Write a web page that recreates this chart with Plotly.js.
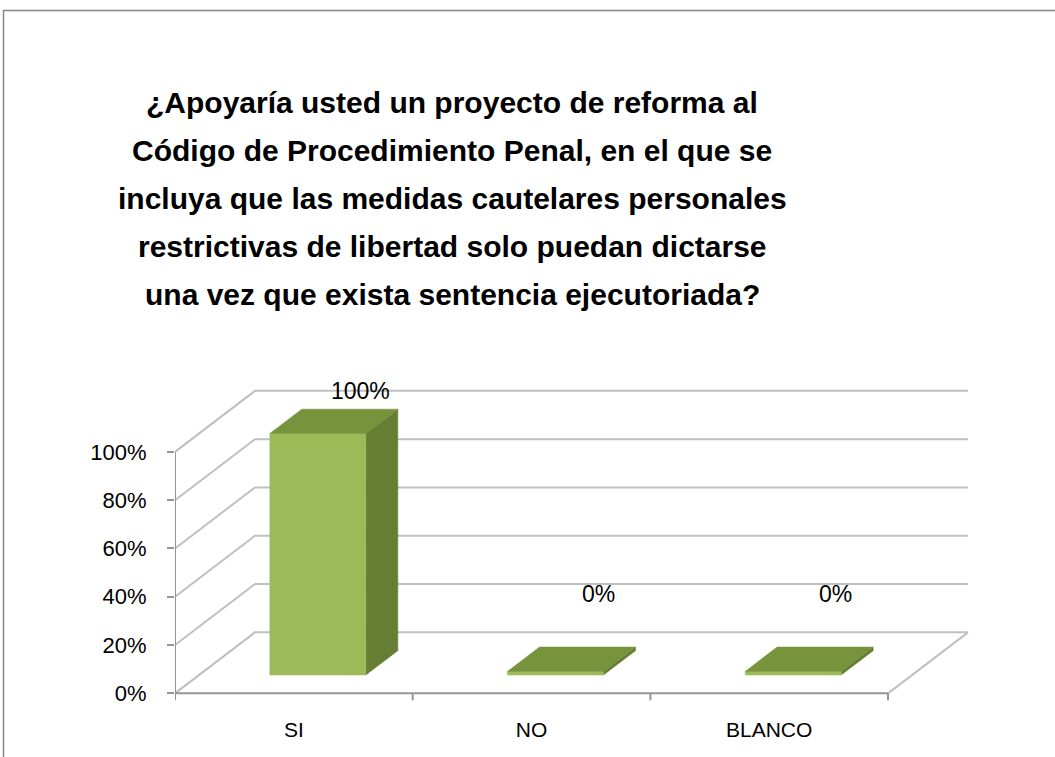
<!DOCTYPE html>
<html>
<head>
<meta charset="utf-8">
<script src="https://cdn.plot.ly/plotly-3.0.1.min.js"></script>
<style>
html,body{margin:0;padding:0;background:#ffffff;}
#chart{width:1055px;height:757px;}
</style>
</head>
<body>
<div id="chart"></div>
<script>
// ---------- data ----------
const titleLines = [
  "¿Apoyaría usted un proyecto de reforma al",
  "Código de Procedimiento Penal, en el que se",
  "incluya que las medidas cautelares personales",
  "restrictivas de libertad solo puedan dictarse",
  "una vez que exista sentencia ejecutoriada?"
];
const categories = ["SI", "NO", "BLANCO"];
const values = [100, 0, 0];
const valueLabels = ["100%", "0%", "0%"];
const yTickVals = [0, 20, 40, 60, 80, 100];
const yTickText = ["0%", "20%", "40%", "60%", "80%", "100%"];

// ---------- layout geometry ----------
const W = 1055, H = 757;
const M = {l: 175, r: 80, t: 367, b: 54};
const plotW = W - M.l - M.r;
const plotH = H - M.t - M.b;
const pxPerCat = 237.67;
const pxPerPct = 2.415;
const xMax = plotW / pxPerCat;
const yMin = -4;
const yMax = yMin + plotH / pxPerPct;
const DX = 80 / pxPerCat;   // depth offset (category units)
const DY = 61 / pxPerPct;   // depth offset (percent units)
const nCat = categories.length;

const FONT = '"Liberation Sans", Arial, sans-serif';
const GRID = 'rgb(192,192,192)';
const AXIS = 'rgb(150,150,150)';
const FRONT = 'rgb(155,187,89)';
const TOP = 'rgb(119,147,60)';
const SIDE = 'rgb(101,126,52)';

function pxX(px){ return (px - M.l) / plotW; }
function pxY(py){ return (H - M.b - py) / plotH; }
function PX(c, d){ return c + d * DX; }
function PY(v, d){ return v + d * DY; }

const traces = [];

// back wall + side wall gridlines
{
  const gx = [], gy = [];
  yTickVals.forEach(t => {
    gx.push(0, PX(0,1), PX(nCat,1), null);
    gy.push(t, PY(t,1), PY(t,1), null);
  });
  // floor right edge
  gx.push(nCat, PX(nCat,1), null);
  gy.push(0, PY(0,1), null);
  traces.push({x: gx, y: gy, mode: 'lines', line: {color: GRID, width: 2},
    hoverinfo: 'skip', showlegend: false, cliponaxis: false});
}

// axes (front)
{
  const ax = [0, 0, null, 0, nCat, null];
  const ay = [yTickVals[yTickVals.length-1], 0, null, 0, 0, null];
  const tickLen = 7 / pxPerPct;
  for (let k = 0; k <= nCat; k++) { ax.push(k, k, null); ay.push(0, -tickLen, null); }
  traces.push({x: ax, y: ay, mode: 'lines', line: {color: AXIS, width: 2},
    hoverinfo: 'skip', showlegend: false, cliponaxis: false});
}

// 3D bars
const halfW = 48 / pxPerCat;
const d0 = 0.3, d1 = 0.7;
const minThick = 1.5;
const fx = [], fy = [], sx = [], sy = [], tx = [], ty = [];
values.forEach((v, i) => {
  const c = i + 0.5;
  const x0 = c - halfW, x1 = c + halfW;
  const h = Math.max(v, minThick);
  // front
  fx.push(PX(x0,d0), PX(x1,d0), PX(x1,d0), PX(x0,d0), PX(x0,d0), null);
  fy.push(PY(0,d0), PY(0,d0), PY(h,d0), PY(h,d0), PY(0,d0), null);
  // right side
  sx.push(PX(x1,d0), PX(x1,d1), PX(x1,d1), PX(x1,d0), PX(x1,d0), null);
  sy.push(PY(0,d0), PY(0,d1), PY(h,d1), PY(h,d0), PY(0,d0), null);
  // top
  tx.push(PX(x0,d0), PX(x1,d0), PX(x1,d1), PX(x0,d1), PX(x0,d0), null);
  ty.push(PY(h,d0), PY(h,d0), PY(h,d1), PY(h,d1), PY(h,d0), null);
});
traces.push({x: sx, y: sy, mode: 'lines', fill: 'toself', fillcolor: SIDE,
  line: {color: SIDE, width: 0.5}, hoverinfo: 'skip', showlegend: false});
traces.push({x: fx, y: fy, mode: 'lines', fill: 'toself', fillcolor: FRONT,
  line: {color: FRONT, width: 0.5}, hoverinfo: 'skip', showlegend: false});
traces.push({x: tx, y: ty, mode: 'lines', fill: 'toself', fillcolor: TOP,
  line: {color: TOP, width: 0.5}, hoverinfo: 'skip', showlegend: false});

// annotations: title lines + value labels
const annotations = [];
titleLines.forEach((line, i) => {
  annotations.push({
    text: '<b>' + line + '</b>', xref: 'paper', yref: 'paper',
    x: pxX(452), y: pxY(112 + 48 * i - 10), xanchor: 'center', yanchor: 'middle',
    showarrow: false, font: {family: FONT, size: 30, color: '#000000'}
  });
});
values.forEach((v, i) => {
  annotations.push({
    text: valueLabels[i], xref: 'x', yref: 'y',
    x: i + 0.5 + 0.28, y: v + DY, xanchor: 'center', yanchor: 'middle',
    yshift: v > 0 ? 0 : 38,
    showarrow: false, font: {family: FONT, size: 23, color: '#000000'}
  });
});

const layout = {
  width: W, height: H,
  margin: M,
  paper_bgcolor: '#ffffff', plot_bgcolor: 'rgba(0,0,0,0)',
  showlegend: false,
  font: {family: FONT, color: '#000000'},
  xaxis: {
    range: [0, xMax], tickvals: categories.map((c, i) => i + 0.5), ticktext: categories,
    ticks: '', showline: false, showgrid: false, zeroline: false,
    tickfont: {family: FONT, size: 21, color: '#000000'}, ticklabelstandoff: 12, fixedrange: true
  },
  yaxis: {
    range: [yMin, yMax], tickvals: yTickVals, ticktext: yTickText,
    ticks: 'outside', ticklen: 7, tickwidth: 2, tickcolor: AXIS,
    showline: false, showgrid: false, zeroline: false,
    tickfont: {family: FONT, size: 22, color: '#000000'}, ticklabelstandoff: 16, fixedrange: true
  },
  annotations: annotations,
  shapes: [{
    type: 'rect', xref: 'paper', yref: 'paper',
    x0: pxX(3.5), x1: pxX(1070), y0: pxY(10.5), y1: pxY(780),
    line: {color: 'rgb(134,134,134)', width: 1.5}, fillcolor: 'rgba(0,0,0,0)', layer: 'below'
  }]
};

Plotly.newPlot('chart', traces, layout, {displayModeBar: false, staticPlot: true});
</script>
</body>
</html>
